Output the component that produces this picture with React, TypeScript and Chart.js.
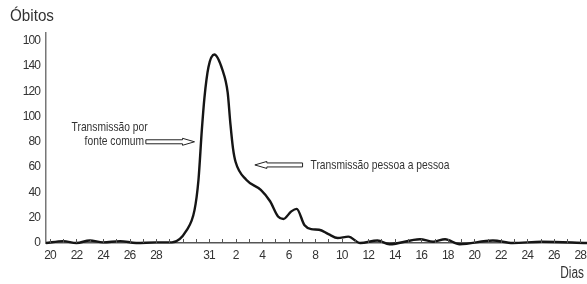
import React, { useEffect, useRef } from 'react';
import { Chart, registerables } from 'chart.js';

Chart.register(...registerables);

// Day positions (index 0 = day "20"), and deaths per position
const dayPositions = [
  -0.3, 1, 2, 3, 4, 5.3, 6.5, 8, 9.2, 10.3, 10.9, 11.2, 11.45, 11.65, 11.95,
  12.4, 13.0, 13.4, 13.6, 13.8, 14.0, 14.8, 15.9, 16.6, 17.2, 17.6, 18.2, 18.6,
  19.2, 19.7, 20.3, 21.0, 21.7, 22.5, 23.4, 24.7, 25.6, 27.9, 28.9, 29.8, 30.9,
  33.4, 34.9, 37.1, 40.5,
];
const deaths = [
  0, 1.5, 0, 2, 0.5, 1.5, 0, 0.5, 0.5, 10, 26, 50, 89, 115, 139,
  149, 137, 119, 95, 75, 64, 50, 42, 33, 21, 19, 25, 27,
  14, 11, 10.5, 7, 4, 5, 0, 2, -1, 3, 1, 3, -1,
  2, 0, 1, 0,
];

const xTickPositions = [0, 2, 4, 6, 8, 12, 14, 16, 18, 20, 22, 24, 26, 28, 30, 32, 34, 36, 38, 40];
const xTickLabels = ['20', '22', '24', '26', '28', '31', '2', '4', '6', '8', '10', '12', '14', '16', '18', '20', '22', '24', '26', '28'];
const yTickValues = [0, 20, 40, 60, 80, 100, 120, 140, 160];
const yTickLabels = ['0', '20', '40', '60', '80', '100', '120', '140', '100'];

const yTitle = 'Óbitos';
const xTitle = 'Dias';
const noteCommon = ['Transmissão por', 'fonte comum'];
const notePerson = 'Transmissão pessoa a pessoa';

const FONT = "'Liberation Sans', Arial, sans-serif";

function condensedText(
  ctx: CanvasRenderingContext2D,
  text: string,
  x: number,
  y: number,
  align: CanvasTextAlign,
  sx: number,
) {
  ctx.save();
  ctx.translate(x, y);
  ctx.scale(sx, 1);
  ctx.textAlign = align;
  ctx.fillText(text, 0, 0);
  ctx.restore();
}

function hollowArrow(ctx: CanvasRenderingContext2D, x0: number, x1: number, y: number) {
  const dir = x1 > x0 ? 1 : -1;
  const headLen = 12;
  const shaftH = 2;
  const headH = 3.5;
  const hb = x1 - dir * headLen;
  ctx.save();
  ctx.beginPath();
  ctx.moveTo(x0, y - shaftH);
  ctx.lineTo(hb, y - shaftH);
  ctx.lineTo(hb, y - headH);
  ctx.lineTo(x1, y);
  ctx.lineTo(hb, y + headH);
  ctx.lineTo(hb, y + shaftH);
  ctx.lineTo(x0, y + shaftH);
  ctx.closePath();
  ctx.fillStyle = '#fff';
  ctx.fill();
  ctx.strokeStyle = '#222';
  ctx.lineWidth = 1;
  ctx.stroke();
  ctx.restore();
}

const decorPlugin = {
  id: 'decor',
  beforeDraw(chart: any) {
    (chart.ctx as any).letterSpacing = '-0.9px';
  },
  afterDraw(chart: any) {
    const ctx = chart.ctx as CanvasRenderingContext2D;
    (ctx as any).letterSpacing = '0px';
    const xs = chart.scales.x;
    const ys = chart.scales.y;
    const bottom = chart.chartArea.bottom;
    ctx.save();
    // inward tick marks
    ctx.strokeStyle = '#555';
    ctx.lineWidth = 1;
    for (let d = 0; d <= 40; d++) {
      const px = Math.round(xs.getPixelForValue(d)) + 0.5;
      ctx.beginPath();
      ctx.moveTo(px, bottom);
      ctx.lineTo(px, bottom - 4);
      ctx.stroke();
    }
    // titles
    ctx.fillStyle = '#333';
    ctx.textBaseline = 'middle';
    ctx.font = `16px ${FONT}`;
    condensedText(ctx, yTitle, 10, 17, 'left', 0.95);
    condensedText(ctx, xTitle, 584, 274, 'right', 0.74);

    // annotations
    ctx.font = `13px ${FONT}`;
    const s = 0.79;
    condensedText(ctx, noteCommon[0], xs.getPixelForValue(4.5), ys.getPixelForValue(91), 'center', s);
    condensedText(ctx, noteCommon[1], xs.getPixelForValue(4.85), ys.getPixelForValue(80), 'center', s);
    condensedText(ctx, notePerson, xs.getPixelForValue(19.65), ys.getPixelForValue(61.5), 'left', s);

    hollowArrow(ctx, xs.getPixelForValue(7.23), xs.getPixelForValue(10.9), ys.getPixelForValue(80));
    hollowArrow(ctx, xs.getPixelForValue(19.05), xs.getPixelForValue(15.45), ys.getPixelForValue(61.7));
    ctx.restore();
  },
};

export default function App() {
  const canvasRef = useRef<HTMLCanvasElement | null>(null);

  useEffect(() => {
    if (!canvasRef.current) return;
    const chart = new Chart(canvasRef.current, {
      type: 'line',
      data: {
        datasets: [
          {
            data: dayPositions.map((x, i) => ({ x, y: deaths[i] })),
            borderColor: '#151515',
            borderWidth: 2.4,
            pointRadius: 0,
            cubicInterpolationMode: 'monotone',
            fill: false,
            clip: false as any,
          },
        ],
      },
      options: {
        animation: false,
        responsive: false,
        layout: { padding: { top: 33, left: 0, right: 0, bottom: 0 } },
        plugins: { legend: { display: false }, tooltip: { enabled: false } },
        scales: {
          x: {
            type: 'linear',
            min: -0.3,
            max: 40.5,
            afterBuildTicks: (s: any) => {
              s.ticks = xTickPositions.map((v) => ({ value: v }));
            },
            afterFit: (s: any) => {
              s.height = 41;
              s.paddingLeft = 0;
              s.paddingRight = 0;
            },
            ticks: {
              autoSkip: false,
              maxRotation: 0,
              padding: 5,
              color: '#333',
              font: { family: FONT, size: 12 },
              callback: (v: any) => {
                const i = xTickPositions.indexOf(Number(v));
                return i >= 0 ? xTickLabels[i] : '';
              },
            },
            grid: { display: false, drawTicks: false },
            border: { display: true, color: '#555', width: 1.5 },
          },
          y: {
            type: 'linear',
            min: 0,
            max: 166,
            afterBuildTicks: (s: any) => {
              s.ticks = yTickValues.map((v) => ({ value: v }));
            },
            afterFit: (s: any) => {
              s.width = 46;
              s.paddingTop = 0;
              s.paddingBottom = 0;
            },
            ticks: {
              padding: 6,
              color: '#333',
              font: { family: FONT, size: 12 },
              callback: (v: any) => {
                const i = yTickValues.indexOf(Number(v));
                return i >= 0 ? yTickLabels[i] : '';
              },
            },
            grid: { display: false, drawTicks: false },
            border: { display: true, color: '#777', width: 1.5 },
          },
        },
      },
      plugins: [decorPlugin],
    } as any);
    return () => chart.destroy();
  }, []);

  return (
    <div style={{ position: 'absolute', left: 0, top: 0, width: 587, height: 284, background: '#fff' }}>
      <canvas ref={canvasRef} width={587} height={284} />
    </div>
  );
}
